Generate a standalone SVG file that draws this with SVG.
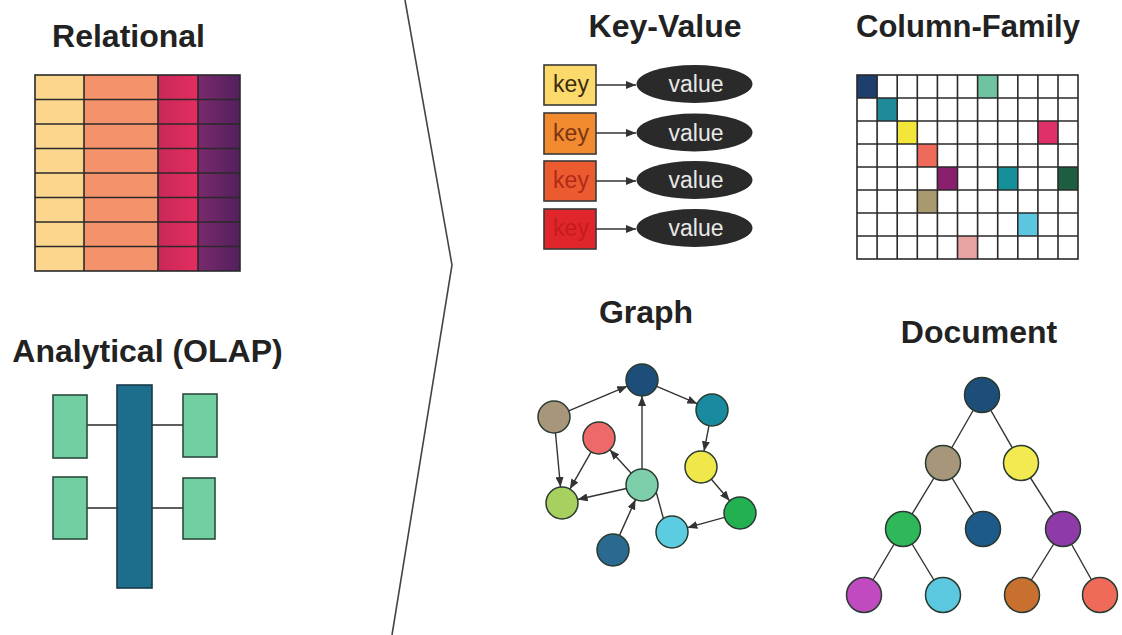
<svg xmlns="http://www.w3.org/2000/svg" width="1122" height="635" viewBox="0 0 1122 635">
<style>
.title{font-family:"Liberation Sans",Arial,sans-serif;font-weight:bold;font-size:32px;fill:#222;text-anchor:middle}
.key{font-family:"Liberation Sans",Arial,sans-serif;font-size:23px;text-anchor:middle}
.val{font-family:"Liberation Sans",Arial,sans-serif;font-size:23px;fill:#e8e8e8;text-anchor:middle}
.ln{stroke:#2a2a2a;stroke-width:1.6;fill:none}
.edge{stroke:#333;stroke-width:1.4;fill:none}
.arr{stroke:#333;stroke-width:1.4;fill:none;marker-end:url(#ah)}
.nd{stroke:#2a3a30;stroke-width:1.5}
.grn{fill:#72cfa2;stroke:#2c4a3c;stroke-width:1.6}
</style>
<defs>
<marker id="ah" viewBox="0 0 10 8" refX="10" refY="4" markerWidth="10" markerHeight="8" markerUnits="userSpaceOnUse" orient="auto">
<path d="M0,0 L10,4 L0,8 z" fill="#333"/>
</marker>
<linearGradient id="g3" x1="0" x2="1" y1="0" y2="0"><stop offset="0" stop-color="#c82858"/><stop offset="1" stop-color="#e42d60"/></linearGradient>
<linearGradient id="g4" x1="0" x2="1" y1="0" y2="0"><stop offset="0" stop-color="#7a2a6c"/><stop offset="1" stop-color="#52205e"/></linearGradient>
</defs>
<rect width="1122" height="635" fill="#ffffff"/>

<g id="divider"><polyline points="405,0 452,265 392,635" fill="none" stroke="#444" stroke-width="1.6"/></g>

<g id="relational">
<text class="title" x="128.5" y="47">Relational</text>
<rect x="35" y="75" width="49" height="196" fill="#fcd68c"/>
<rect x="84" y="75" width="74" height="196" fill="#f4926c"/>
<rect x="158" y="75" width="40" height="196" fill="url(#g3)"/>
<rect x="198" y="75" width="42" height="196" fill="url(#g4)"/>
<g class="ln">
<rect x="35" y="75" width="205" height="196"/>
<path d="M84,75V271M158,75V271M198,75V271"/>
<path d="M35,99.5H240M35,124H240M35,148.5H240M35,173H240M35,197.5H240M35,222H240M35,246.5H240"/>
</g>
</g>

<g id="analytical">
<text class="title" x="147.5" y="362">Analytical (OLAP)</text>
<g class="ln"><path d="M87,425H117M152,425H183M87,508H117M152,508H183"/></g>
<rect class="grn" x="53" y="395" width="34" height="63"/>
<rect class="grn" x="53" y="477" width="34" height="62"/>
<rect class="grn" x="183" y="394" width="34" height="63"/>
<rect class="grn" x="183" y="478" width="32" height="61"/>
<rect x="117" y="385" width="35" height="203" fill="#1d6e8c" stroke="#1a3a4a" stroke-width="1.6"/>
</g>

<g id="key-value">
<text class="title" x="665" y="37">Key-Value</text>
<g id="kv1">
<rect x="544" y="65" width="52" height="40" fill="#fbd96b" stroke="#3a3a3a" stroke-width="1.6"/>
<text class="key" x="571" y="92" fill="#3a2a10">key</text>
<line class="arr" x1="596" y1="85" x2="636" y2="85"/>
<ellipse cx="694.5" cy="84" rx="58" ry="19" fill="#2a2a2a"/>
<text class="val" x="696" y="92">value</text>
</g>
<g id="kv2">
<rect x="544" y="113" width="52" height="41" fill="#f28a30" stroke="#3a3a3a" stroke-width="1.6"/>
<text class="key" x="571" y="141" fill="#7a3510">key</text>
<line class="arr" x1="596" y1="133" x2="636" y2="133"/>
<ellipse cx="694.5" cy="132.5" rx="58" ry="19" fill="#2a2a2a"/>
<text class="val" x="696" y="140.5">value</text>
</g>
<g id="kv3">
<rect x="544" y="161" width="52" height="40" fill="#ec5a2f" stroke="#3a3a3a" stroke-width="1.6"/>
<text class="key" x="571" y="188" fill="#b02a18">key</text>
<line class="arr" x1="596" y1="181" x2="636" y2="181"/>
<ellipse cx="694.5" cy="180" rx="58" ry="19" fill="#2a2a2a"/>
<text class="val" x="696" y="188">value</text>
</g>
<g id="kv4">
<rect x="544" y="209" width="52" height="40" fill="#e0262a" stroke="#3a3a3a" stroke-width="1.6"/>
<text class="key" x="571" y="236" fill="#c41c1c">key</text>
<line class="arr" x1="596" y1="229" x2="636" y2="229"/>
<ellipse cx="694.5" cy="228" rx="58" ry="19" fill="#2a2a2a"/>
<text class="val" x="696" y="236">value</text>
</g>
</g>

<g id="column-family">
<text class="title" x="968" y="37" style="font-size:31px">Column-Family</text>
<rect x="857" y="75" width="221" height="184" fill="#fff"/>
<rect x="857" y="75" width="20.1" height="23" fill="#1e3f6e"/>
<rect x="977.6" y="75" width="20.1" height="23" fill="#6fc3a0"/>
<rect x="877.1" y="98" width="20.1" height="23" fill="#1f8a9a"/>
<rect x="897.2" y="121" width="20.1" height="23" fill="#f3e53a"/>
<rect x="1037.9" y="121" width="20.1" height="23" fill="#e0306a"/>
<rect x="917.3" y="144" width="20.1" height="23" fill="#ee6a5a"/>
<rect x="937.4" y="167" width="20.1" height="23" fill="#8a1f6e"/>
<rect x="997.7" y="167" width="20.1" height="23" fill="#15909a"/>
<rect x="1058" y="167" width="20" height="23" fill="#1e5e40"/>
<rect x="917.3" y="190" width="20.1" height="23" fill="#a89a6e"/>
<rect x="1017.8" y="213" width="20.1" height="23" fill="#5cc6e0"/>
<rect x="957.5" y="236" width="20.1" height="23" fill="#e9a3a3"/>
<g class="ln">
<rect x="857" y="75" width="221" height="184"/>
<path d="M877.1,75V259M897.2,75V259M917.3,75V259M937.4,75V259M957.5,75V259M977.6,75V259M997.7,75V259M1017.8,75V259M1037.9,75V259M1058,75V259"/>
<path d="M857,98H1078M857,121H1078M857,144H1078M857,167H1078M857,190H1078M857,213H1078M857,236H1078"/>
</g>
</g>

<g id="graph">
<text class="title" x="646" y="323">Graph</text>
<g id="graph-edges">
<line class="arr" x1="568.7" y1="410.8" x2="627.3" y2="386.2"/>
<line class="arr" x1="656.7" y1="386.3" x2="697.3" y2="403.7"/>
<line class="arr" x1="709" y1="425.7" x2="704" y2="451.3"/>
<line class="arr" x1="711.4" y1="479.2" x2="729.6" y2="500.8"/>
<line class="arr" x1="724.6" y1="517.3" x2="687.4" y2="527.7"/>
<line class="arr" x1="663.4" y1="518.5" x2="650.6" y2="471.5"/>
<line class="arr" x1="619.5" y1="535.4" x2="635.5" y2="499.6"/>
<line class="arr" x1="642" y1="469" x2="642" y2="396"/>
<line class="arr" x1="631.2" y1="473.2" x2="609.8" y2="449.8"/>
<line class="arr" x1="626.4" y1="488.5" x2="577.6" y2="499.5"/>
<line class="arr" x1="591.1" y1="451.9" x2="569.9" y2="489.1"/>
<line class="arr" x1="555.5" y1="433" x2="560.5" y2="487"/>
</g>
<circle id="g-navy" class="nd" cx="642" cy="380" r="16" fill="#1d4e7a"/>
<circle id="g-khaki" class="nd" cx="554" cy="417" r="16" fill="#a8967a"/>
<circle id="g-teal" class="nd" cx="712" cy="410" r="16" fill="#1a8aa0"/>
<circle id="g-red" class="nd" cx="599" cy="438" r="16" fill="#ee6a6a"/>
<circle id="g-yellow" class="nd" cx="701" cy="467" r="16" fill="#f0e84a"/>
<circle id="g-mint" class="nd" cx="642" cy="485" r="16" fill="#7ccfaa"/>
<circle id="g-lgreen" class="nd" cx="562" cy="503" r="16" fill="#a8d060"/>
<circle id="g-green" class="nd" cx="740" cy="513" r="16" fill="#22b050"/>
<circle id="g-lblue" class="nd" cx="672" cy="532" r="16" fill="#5ccde0"/>
<circle id="g-steel" class="nd" cx="613" cy="550" r="16" fill="#2a6a90"/>
</g>

<g id="document">
<text class="title" x="979" y="343">Document</text>
<g id="doc-edges" class="edge">
<path d="M982,395L943,463M982,395L1021,463M943,463L903,529M943,463L983,529M1021,463L1063,529M903,529L864,595M903,529L943,595M1063,529L1022,595M1063,529L1100,595"/>
</g>
<circle id="d-root" class="nd" cx="982" cy="395" r="17.5" fill="#1d4e7a"/>
<circle id="d-khaki" class="nd" cx="943" cy="463" r="17.5" fill="#a8967a"/>
<circle id="d-yellow" class="nd" cx="1021" cy="463" r="17.5" fill="#f2ea50"/>
<circle id="d-green" class="nd" cx="903" cy="529" r="17.5" fill="#2eb85a"/>
<circle id="d-navy" class="nd" cx="983" cy="529" r="17.5" fill="#1d5a8a"/>
<circle id="d-purple" class="nd" cx="1063" cy="529" r="17.5" fill="#8e3aa8"/>
<circle id="d-magenta" class="nd" cx="864" cy="595" r="17.5" fill="#c04ac0"/>
<circle id="d-lblue" class="nd" cx="943" cy="595" r="17.5" fill="#5cc8e0"/>
<circle id="d-orange" class="nd" cx="1022" cy="595" r="17.5" fill="#c87030"/>
<circle id="d-coral" class="nd" cx="1100" cy="595" r="17.5" fill="#f06a5a"/>
</g>
</svg>
